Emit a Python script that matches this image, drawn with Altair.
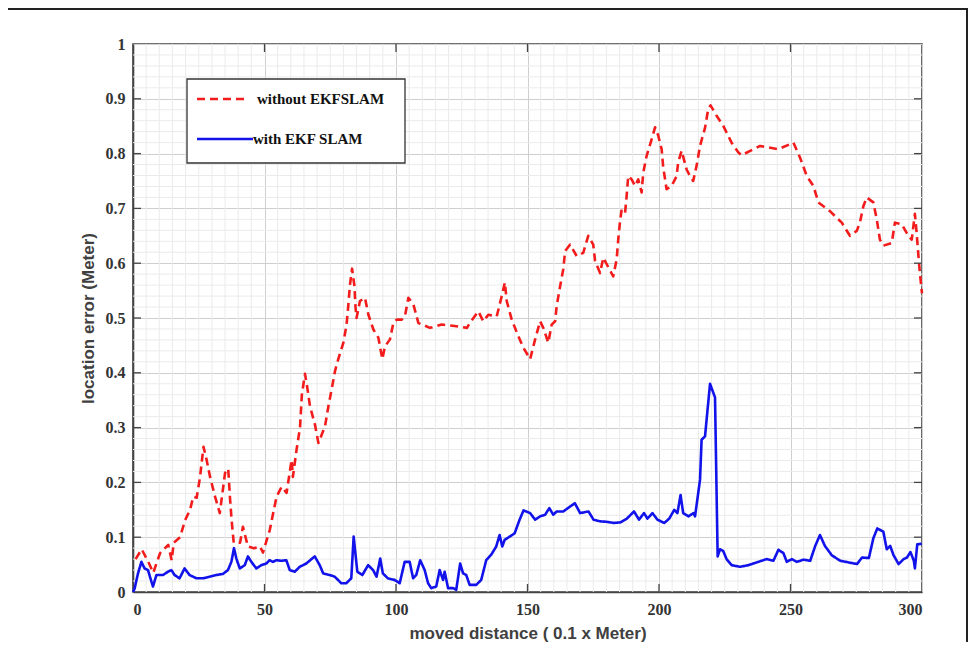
import altair as alt
import pandas as pd

red_x = [1, 3.3, 5.8, 7.7, 10.3, 13.4, 14.7, 15.5, 17.9, 19.8, 21.7, 22.9, 24.2, 25.5, 26.8, 28, 29.3, 31.2, 33, 35, 36.2, 36.9, 37.5, 38.3, 40.7, 41.8, 43.7, 46, 48.3, 49.4, 52, 53.3, 54.6, 56.5, 58.4, 60.3, 60.8, 62.2, 63.5, 64.2, 65.4, 66.2, 67.3, 69.2, 70.5, 73, 74.3, 75.5, 76.8, 78, 80, 81.2, 81.9, 82.5, 83.3, 84.2, 84.6, 85, 86.3, 88.2, 89.5, 91.4, 93.3, 94.8, 95.8, 97.7, 99, 100.3, 102.2, 103.4, 104.7, 106.6, 108.5, 112.9, 117.4, 123, 127, 128.1, 131.3, 133.2, 135.1, 138.3, 140.2, 141.4, 142.1, 144, 146.5, 148.4, 151, 152.9, 154.8, 156, 157.9, 159.2, 160.5, 161.1, 162.4, 163.6, 164.3, 166.2, 168.7, 171.2, 173.1, 175, 175.7, 177.6, 178.8, 182.6, 183.9, 184.5, 185.2, 185.8, 187.1, 187.7, 188.3, 189.6, 190.9, 192.1, 193.4, 194, 195.3, 197.2, 198.5, 199.7, 201, 201.6, 202.9, 204.8, 206.7, 207.3, 208.6, 210.5, 211.8, 213, 214.3, 215.6, 217.5, 218.7, 219.6, 221.9, 224.4, 227.6, 230.2, 231.4, 238.4, 245.4, 251.1, 253.6, 256.2, 258.7, 260.6, 265, 269.5, 272.6, 275.2, 276.4, 277.7, 279, 281.5, 282.8, 284, 285.3, 288.5, 289.7, 292.3, 294.8, 296.1, 297.3, 298, 298.6, 299.2, 300]
red_y = [0.06, 0.078, 0.055, 0.035, 0.071, 0.086, 0.058, 0.09, 0.1, 0.131, 0.15, 0.174, 0.172, 0.21, 0.265, 0.241, 0.21, 0.174, 0.144, 0.217, 0.225, 0.17, 0.131, 0.09, 0.09, 0.119, 0.083, 0.08, 0.083, 0.072, 0.113, 0.144, 0.174, 0.192, 0.181, 0.241, 0.21, 0.26, 0.3, 0.36, 0.398, 0.375, 0.339, 0.305, 0.272, 0.302, 0.339, 0.369, 0.403, 0.424, 0.455, 0.488, 0.525, 0.561, 0.59, 0.558, 0.52, 0.5, 0.531, 0.537, 0.506, 0.479, 0.464, 0.425, 0.448, 0.461, 0.491, 0.497, 0.497, 0.503, 0.537, 0.525, 0.491, 0.482, 0.488, 0.485, 0.482, 0.491, 0.512, 0.494, 0.506, 0.503, 0.54, 0.565, 0.531, 0.497, 0.467, 0.446, 0.425, 0.461, 0.494, 0.482, 0.455, 0.488, 0.494, 0.522, 0.558, 0.589, 0.622, 0.634, 0.613, 0.619, 0.65, 0.634, 0.604, 0.582, 0.61, 0.576, 0.607, 0.643, 0.677, 0.698, 0.692, 0.723, 0.759, 0.753, 0.741, 0.753, 0.729, 0.765, 0.796, 0.826, 0.848, 0.833, 0.808, 0.775, 0.735, 0.741, 0.759, 0.784, 0.805, 0.771, 0.759, 0.75, 0.778, 0.814, 0.847, 0.881, 0.888, 0.869, 0.851, 0.82, 0.802, 0.797, 0.814, 0.808, 0.82, 0.793, 0.759, 0.741, 0.711, 0.695, 0.674, 0.65, 0.659, 0.674, 0.704, 0.72, 0.711, 0.68, 0.643, 0.632, 0.637, 0.674, 0.671, 0.65, 0.643, 0.69, 0.653, 0.616, 0.582, 0.545]

blue_x = [0, 0.6, 1.9, 3.2, 4.4, 5.7, 7, 7.6, 8.9, 11.4, 13.3, 14.6, 15.8, 17.7, 19.6, 21.5, 24.1, 26.6, 29.1, 31.7, 34.2, 36.1, 37.4, 38.4, 39.3, 40.6, 42.5, 43.7, 45, 46.9, 48.8, 50.7, 51.9, 53.2, 54.5, 56.4, 58.3, 59.6, 61.5, 63.4, 65.9, 69.1, 71, 72.3, 74.8, 76.7, 79.2, 81.1, 83, 83.9, 85.3, 87.2, 89.4, 91.3, 92.6, 94, 95, 96.9, 99.5, 101.4, 103.3, 105.2, 106.5, 107.7, 109.2, 110.9, 112.2, 113.4, 115.3, 116.6, 117.9, 118.5, 119.8, 121.7, 122.9, 124.4, 125.5, 126.7, 128, 130.5, 132.4, 134.3, 136.2, 138.1, 139.4, 140.4, 141.3, 143.2, 145.1, 147, 148.5, 151, 152.9, 154.8, 156.7, 158.3, 159.8, 161.1, 163.6, 166.2, 168, 170, 173.2, 175.1, 177.6, 180.2, 182.8, 185.3, 187.8, 190.5, 192.4, 194.3, 195.6, 197.5, 199.4, 202, 203.9, 205.8, 207, 208.2, 209.2, 211.2, 213.1, 213.7, 214.9, 215.6, 216.2, 217.5, 219.4, 221.3, 221.9, 222.3, 223.2, 224.4, 225.7, 227.6, 230.8, 234, 237.1, 240.9, 243.5, 245.4, 247.3, 248.6, 250.5, 252.4, 255, 257.5, 259.4, 261.2, 263.1, 265.7, 268.9, 272.1, 275.3, 277.2, 279.8, 281.5, 283, 285.3, 286.6, 287.9, 289.2, 291.1, 293, 294.3, 295.6, 296.9, 297.3, 298.2, 299.9]
blue_y = [0, 0.006, 0.034, 0.055, 0.043, 0.04, 0.019, 0.01, 0.031, 0.031, 0.037, 0.04, 0.031, 0.025, 0.043, 0.031, 0.025, 0.025, 0.028, 0.031, 0.033, 0.04, 0.055, 0.08, 0.061, 0.043, 0.049, 0.065, 0.055, 0.043, 0.049, 0.052, 0.058, 0.055, 0.058, 0.057, 0.058, 0.04, 0.037, 0.046, 0.052, 0.065, 0.049, 0.034, 0.031, 0.028, 0.016, 0.016, 0.025, 0.101, 0.037, 0.031, 0.049, 0.04, 0.028, 0.061, 0.034, 0.025, 0.022, 0.016, 0.055, 0.055, 0.025, 0.031, 0.058, 0.04, 0.016, 0.007, 0.01, 0.04, 0.022, 0.037, 0.007, 0.007, 0.004, 0.052, 0.034, 0.031, 0.013, 0.013, 0.022, 0.058, 0.068, 0.083, 0.104, 0.083, 0.095, 0.101, 0.107, 0.132, 0.149, 0.144, 0.132, 0.138, 0.141, 0.153, 0.141, 0.147, 0.147, 0.156, 0.162, 0.144, 0.147, 0.132, 0.129, 0.128, 0.126, 0.127, 0.134, 0.147, 0.132, 0.144, 0.134, 0.144, 0.132, 0.126, 0.134, 0.15, 0.144, 0.177, 0.144, 0.138, 0.144, 0.138, 0.18, 0.205, 0.278, 0.284, 0.38, 0.355, 0.18, 0.065, 0.078, 0.075, 0.06, 0.049, 0.046, 0.049, 0.054, 0.06, 0.057, 0.077, 0.071, 0.055, 0.06, 0.055, 0.059, 0.057, 0.084, 0.104, 0.084, 0.067, 0.057, 0.054, 0.051, 0.063, 0.062, 0.098, 0.116, 0.11, 0.078, 0.084, 0.067, 0.051, 0.06, 0.063, 0.073, 0.057, 0.043, 0.087, 0.088]

series_names = ["without EKFSLAM", "with EKF SLAM"]
series_colors = ["#f21c1c", "#1212ea"]
series_dash = [[8, 5], [1, 0]]
x_ticks = [0, 50, 100, 150, 200, 250, 300]
y_ticks = [0, 0.1, 0.2, 0.3, 0.4, 0.5, 0.6, 0.7, 0.8, 0.9, 1]
x_minor = [v for v in range(5, 300, 5) if v % 50 != 0]
y_minor = [round(i * 0.02, 2) for i in range(1, 50) if i % 5 != 0]

W, H = 789, 548

df = pd.concat([
    pd.DataFrame({"x": red_x, "y": red_y, "s": series_names[0], "o": range(len(red_x))}),
    pd.DataFrame({"x": blue_x, "y": blue_y, "s": series_names[1], "o": range(len(blue_x))}),
])

xs = alt.Scale(domain=[0, 300], nice=False, zero=False)
ys = alt.Scale(domain=[0, 1], nice=False, zero=False)
cs = alt.Scale(domain=series_names, range=series_colors)
ds = alt.Scale(domain=series_names, range=series_dash)

minor_x = alt.Chart(pd.DataFrame({"v": x_minor})).mark_rule(color="#ebebeb", strokeWidth=1).encode(
    x=alt.X("v:Q", scale=xs))
minor_y = alt.Chart(pd.DataFrame({"v": y_minor})).mark_rule(color="#ebebeb", strokeWidth=1).encode(
    y=alt.Y("v:Q", scale=ys))

lines = alt.Chart(df).mark_line(strokeWidth=2.6, strokeJoin="round").encode(
    x=alt.X("x:Q", scale=xs,
            axis=alt.Axis(values=x_ticks, title="moved distance ( 0.1 x Meter)", grid=True,
                          gridColor="#cfcfcf", ticks=False, labelPadding=9,
                          titleX=W / 2, titleY=41, titleBaseline="middle")),
    y=alt.Y("y:Q", scale=ys,
            axis=alt.Axis(values=y_ticks, title="location error (Meter)", grid=True,
                          gridColor="#cfcfcf", ticks=False, labelPadding=8,
                          labelExpr="datum.value == 0 ? '0' : datum.value == 1 ? '1' : format(datum.value, '.1f')",
                          titleX=-45, titleY=H / 2, titleAngle=270, titleBaseline="middle")),
    color=alt.Color("s:N", scale=cs, legend=None),
    strokeDash=alt.StrokeDash("s:N", scale=ds, legend=None),
    order="o:Q",
)

tick_col = "#444444"
xt = pd.DataFrame({"v": x_ticks[1:-1]})
yt = pd.DataFrame({"v": y_ticks[1:-1]})
tick_bot = alt.Chart(xt).mark_rule(color=tick_col, strokeWidth=1.3).encode(
    x=alt.X("v:Q", scale=xs), y=alt.value(H), y2=alt.value(H - 8))
tick_top = alt.Chart(xt).mark_rule(color=tick_col, strokeWidth=1.3).encode(
    x=alt.X("v:Q", scale=xs), y=alt.value(0), y2=alt.value(8))
tick_left = alt.Chart(yt).mark_rule(color=tick_col, strokeWidth=1.3).encode(
    y=alt.Y("v:Q", scale=ys), x=alt.value(0), x2=alt.value(8))
tick_right = alt.Chart(yt).mark_rule(color=tick_col, strokeWidth=1.3).encode(
    y=alt.Y("v:Q", scale=ys), x=alt.value(W), x2=alt.value(W - 8))

# legend (box, line samples, labels)
leg_box = alt.Chart(pd.DataFrame({"k": [1]})).mark_rect(
    fill="white", stroke="#333333", strokeWidth=1.3).encode(
    x=alt.value(54), x2=alt.value(272), y=alt.value(35), y2=alt.value(119))
leg_df = pd.DataFrame({"s": series_names})
leg_red = alt.Chart(leg_df.iloc[[0]]).mark_rule(strokeWidth=2.6).encode(
    x=alt.value(64), x2=alt.value(116), y=alt.value(55),
    color=alt.Color("s:N", scale=cs, legend=None),
    strokeDash=alt.StrokeDash("s:N", scale=ds, legend=None))
leg_blue = alt.Chart(leg_df.iloc[[1]]).mark_rule(strokeWidth=2.6).encode(
    x=alt.value(64), x2=alt.value(120), y=alt.value(95),
    color=alt.Color("s:N", scale=cs, legend=None),
    strokeDash=alt.StrokeDash("s:N", scale=ds, legend=None))
leg_txt1 = alt.Chart(leg_df.iloc[[0]]).mark_text(
    align="left", baseline="middle", font="Liberation Serif", fontSize=15, fontWeight="bold",
    color="#111111").encode(x=alt.value(124), y=alt.value(55), text="s:N")
leg_txt2 = alt.Chart(leg_df.iloc[[1]]).mark_text(
    align="left", baseline="middle", font="Liberation Serif", fontSize=15, fontWeight="bold",
    color="#111111").encode(x=alt.value(120), y=alt.value(95), text="s:N")

frame = alt.Chart(pd.DataFrame({"k": [1]})).mark_rect(
    fill=None, stroke="#222222", strokeWidth=2, clip=False).encode(
    x=alt.value(-126), x2=alt.value(834), y=alt.value(-35), y2=alt.value(640))

chart = alt.layer(minor_x, minor_y, lines, tick_bot, tick_top, tick_left, tick_right,
                  leg_box, leg_red, leg_blue, leg_txt1, leg_txt2, frame).properties(
    width=W, height=H,
    autosize=alt.AutoSizeParams(type="none"),
    padding={"left": 125, "top": 36, "right": 46, "bottom": 50},
    background="white",
).configure_view(stroke="#444444", strokeWidth=1.6).configure_axis(
    domainColor="#444444", domainWidth=1.6,
    labelFont="Liberation Serif", labelFontSize=16, labelFontWeight="bold", labelColor="#333333",
    titleFont="Liberation Sans", titleFontSize=17, titleFontWeight="bold", titleColor="#404040",
)

chart.save("out.html", embed_options={"renderer": "svg", "actions": False})
